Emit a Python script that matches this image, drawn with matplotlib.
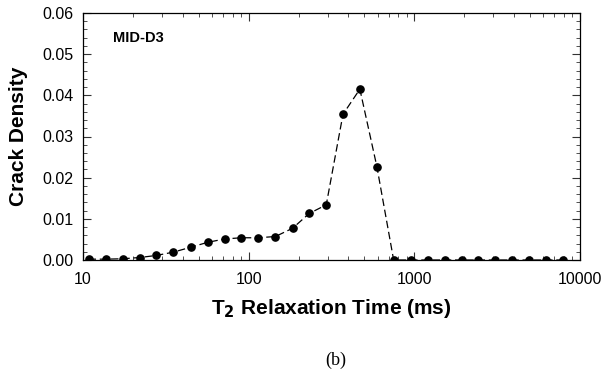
import numpy as np
import matplotlib
matplotlib.use('Agg')
import matplotlib.pyplot as plt
from matplotlib.ticker import MultipleLocator, LogLocator, NullFormatter, FixedLocator, FixedFormatter

# T2 relaxation time bins (ms) and crack density
t2_ms = [10.8, 13.8, 17.4, 22.0, 27.7, 35.1, 44.7, 56.7, 71.5, 90.3,
         114, 145, 184, 232, 294, 371, 469, 594, 750, 951,
         1205, 1528, 1928, 2432, 3083, 3908, 4954, 6250, 7886]
crack_density = [0.0002, 0.0002, 0.0003, 0.0006, 0.0011, 0.0019, 0.0031, 0.0043, 0.0051, 0.0054,
                 0.0054, 0.0057, 0.0077, 0.0113, 0.0134, 0.0354, 0.0415, 0.0227, 0.0, 0.0,
                 0.0, 0.0, 0.0, 0.0, 0.0, 0.0, 0.0, 0.0, 0.0]
x_ticks = [10, 100, 1000, 10000]
x_ticklabels = ['10', '100', '1000', '10000']
sample_name = 'MID-D3'

plt.rcParams.update({'font.family': ['Liberation Sans', 'DejaVu Sans'],
                     'xtick.direction': 'in',
                     'ytick.direction': 'in',
                     'xtick.top': True,
                     'ytick.right': True,
                     'xtick.major.size': 6,
                     'ytick.major.size': 6,
                     'xtick.minor.size': 3,
                     'ytick.minor.size': 3,
                     'axes.linewidth': 0.9})

fig = plt.figure(figsize=(6.03, 3.75), dpi=100)
ax = fig.add_axes([0.1376, 0.3067, 0.8243, 0.6586])

ax.plot(t2_ms, crack_density, 'o', ls=(0, (6, 3)), c='k', lw=0.9, ms=5.2)

ax.set_xscale('log')
ax.set_xlim(10, 10000)
ax.set_ylim(0, 0.06)
ax.xaxis.set_major_locator(FixedLocator(x_ticks))
ax.xaxis.set_major_formatter(FixedFormatter(x_ticklabels))
ax.xaxis.set_minor_locator(LogLocator(base=10, subs=np.arange(2, 10)))
ax.xaxis.set_minor_formatter(NullFormatter())
ax.yaxis.set_major_locator(MultipleLocator(0.01))
ax.yaxis.set_minor_locator(MultipleLocator(0.002))
ax.yaxis.set_major_formatter(matplotlib.ticker.FormatStrFormatter('%.2f'))
ax.tick_params(which='both', labelsize=11.5, color='#333333')
ax.tick_params(axis='x', which='major', pad=9)
ax.tick_params(axis='y', which='major', pad=7)

ax.set_xlabel('T$_\\mathbf{2}$ Relaxation Time (ms)', fontsize=15, fontweight='bold', labelpad=7)
ax.set_ylabel('Crack Density', fontsize=15, fontweight='bold', labelpad=10)
ax.text(0.06, 0.898, sample_name, transform=ax.transAxes, fontsize=10.5,
        fontweight='bold', va='center')

fig.text(0.556, 0.04, '(b)', ha='center', va='center', fontsize=13, family='Liberation Serif')

fig.savefig('out.png', dpi=100)
